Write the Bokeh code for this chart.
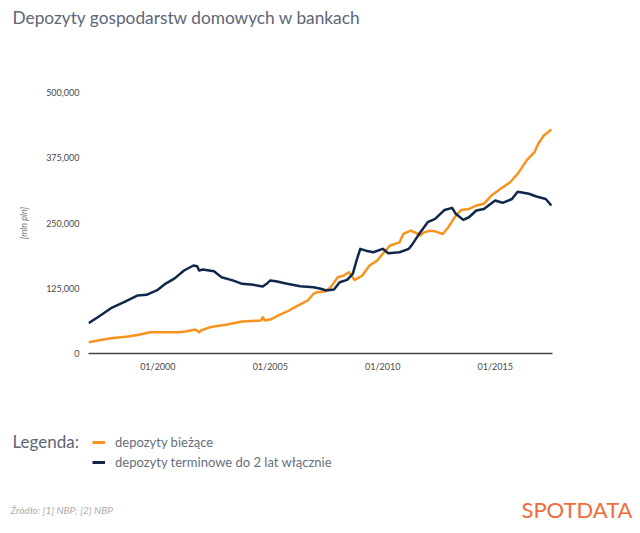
import pandas as pd
from bokeh.plotting import figure
from bokeh.models import (Range1d, FixedTicker, NumeralTickFormatter,
                          DatetimeTickFormatter, Label, Legend, LegendItem)
from bokeh.embed import file_html
from bokeh.resources import INLINE

title_text = "Depozyty gospodarstw domowych w bankach"
legend_title = "Legenda:"
series_names = ["depozyty bieżące", "depozyty terminowe do 2 lat włącznie"]
y_axis_label = "[mln pln]"
source_text = "Źródło: [1] NBP; [2] NBP"
logo_text = "SPOTDATA"
y_ticks = [0, 125000, 250000, 375000, 500000]
x_tick_labels = ["01/2000", "01/2005", "01/2010", "01/2015"]

current_dates = ["1996-12", "1997-05", "1997-12", "1998-09", "1999-03", "1999-09",
                 "2000-05", "2000-12", "2001-04", "2001-09", "2001-11", "2001-12",
                 "2002-05", "2002-07", "2003-02", "2003-10", "2004-08", "2004-09",
                 "2004-10", "2005-01", "2005-06", "2005-10", "2006-04", "2006-09",
                 "2006-12", "2007-02", "2007-06", "2007-09", "2008-01", "2008-04",
                 "2008-07", "2008-10", "2009-02", "2009-06", "2009-10", "2010-01",
                 "2010-05", "2010-10", "2010-12", "2011-04", "2011-07", "2011-09",
                 "2011-11", "2012-02", "2012-05", "2012-09", "2012-12", "2013-04",
                 "2013-07", "2013-11", "2014-03", "2014-07", "2014-11", "2015-04",
                 "2015-09", "2016-01", "2016-06", "2016-10", "2016-12", "2017-03",
                 "2017-07"]
current_values = [21700, 25000, 29300, 32600, 35800, 40800,
                  40800, 40800, 42000, 46000, 40800, 44000,
                  50400, 51700, 55500, 61300, 63200, 69500,
                  63200, 65000, 74000, 80500, 92000, 101500,
                  114000, 117500, 118800, 125800, 146000, 149000,
                  155700, 141000, 149000, 168600, 178000, 191000,
                  207000, 213000, 229000, 235600, 230500, 226000,
                  232000, 235000, 234000, 229000, 242000, 264000,
                  275000, 277000, 283500, 286800, 302700, 315500,
                  328000, 344000, 371000, 385600, 401700, 417600,
                  429000]

term_dates = ["1996-12", "1997-05", "1997-12", "1998-07", "1999-02", "1999-07",
              "2000-01", "2000-05", "2000-10", "2001-03", "2001-08", "2001-10",
              "2001-11", "2002-01", "2002-07", "2002-11", "2003-05", "2003-10",
              "2004-04", "2004-09", "2004-11", "2005-01", "2005-04", "2005-10",
              "2006-05", "2006-12", "2007-04", "2007-07", "2007-11", "2008-02",
              "2008-06", "2008-09", "2008-11", "2009-01", "2009-04", "2009-08",
              "2010-01", "2010-04", "2010-10", "2011-03", "2011-05", "2011-09",
              "2012-01", "2012-05", "2012-10", "2013-02", "2013-04", "2013-08",
              "2013-11", "2014-03", "2014-07", "2015-01", "2015-05", "2015-10",
              "2016-01", "2016-07", "2016-11", "2017-04", "2017-07"]
term_values = [58000, 69500, 86800, 98300, 111000, 112400,
               122000, 133500, 144000, 159000, 168600, 167000,
               159000, 161000, 157700, 146000, 140000, 133500,
               131600, 128300, 133500, 140000, 138500, 133500,
               129000, 127000, 124000, 120700, 122600, 136600,
               141000, 152700, 178000, 200500, 197000, 194000,
               200500, 192000, 194000, 200500, 210000, 232000,
               251500, 258000, 275000, 279000, 267600, 256000,
               261000, 274000, 277000, 293000, 288700, 296000,
               310000, 306000, 300800, 296000, 283500]

ORANGE = "#f7931e"
NAVY = "#10284b"
FONT = "Lato"
W = 640
HEAD_H = 40
CHART_H = 350
FOOT_TOP = HEAD_H + CHART_H
FOOT_H = 533 - FOOT_TOP


def blank(height, y_top):
    f = figure(width=W, height=height, output_backend="svg", toolbar_location=None,
               x_range=Range1d(0, W), y_range=Range1d(y_top + height, y_top),
               min_border=0, min_border_left=0, min_border_right=0,
               min_border_top=0, min_border_bottom=0)
    f.axis.visible = False
    f.grid.visible = False
    f.outline_line_color = None
    return f


cur_x = pd.to_datetime(current_dates, format="%Y-%m")
term_x = pd.to_datetime(term_dates, format="%Y-%m")
tick_x = pd.to_datetime(x_tick_labels, format="%m/%Y")

# ---- header ----
head = blank(HEAD_H, 0)
head.add_layout(Label(x=12, y=17, text=title_text, text_font=FONT,
                      text_font_size="17.3px", text_color="#5d6676",
                      text_baseline="middle"))

# ---- chart ----
p = figure(width=W, height=CHART_H, output_backend="svg", toolbar_location=None,
           x_axis_type="datetime",
           x_range=Range1d(pd.Timestamp("1996-12-01"), pd.Timestamp("2017-07-20")),
           y_range=Range1d(0, 500000),
           min_border_left=88, min_border_right=88, min_border_top=52,
           min_border_bottom=37)
p.outline_line_color = None
p.grid.visible = False

p.line(cur_x, current_values, line_color=ORANGE, line_width=2.5, line_join="round")
p.line(term_x, term_values, line_color=NAVY, line_width=2.5, line_join="round")

ya = p.yaxis[0]
ya.ticker = FixedTicker(ticks=y_ticks)
ya.formatter = NumeralTickFormatter(format="0,0")
ya.axis_line_color = None
ya.major_tick_line_color = None
ya.minor_tick_line_color = None
ya.major_tick_out = 0
ya.major_tick_in = 0
ya.major_label_standoff = 9
ya.major_label_text_font = FONT
ya.major_label_text_font_size = "9px"
ya.major_label_text_color = "#4a4a4a"
ya.axis_label = y_axis_label
ya.axis_label_text_font = FONT
ya.axis_label_text_font_style = "italic"
ya.axis_label_text_font_size = "9px"
ya.axis_label_text_color = "#777777"
ya.axis_label_standoff = 14

xa = p.xaxis[0]
xa.ticker = FixedTicker(ticks=[int(t.value // 10**6) for t in tick_x])
xa.formatter = DatetimeTickFormatter(years="%m/%Y", months="%m/%Y", days="%m/%Y")
xa.axis_line_color = "#444444"
xa.axis_line_width = 1.5
xa.major_tick_line_color = None
xa.minor_tick_line_color = None
xa.major_tick_out = 0
xa.major_tick_in = 0
xa.major_label_standoff = 7
xa.major_label_text_font = FONT
xa.major_label_text_font_size = "9px"
xa.major_label_text_color = "#4a4a4a"

# ---- footer (legend, source, logo) ----
foot = blank(FOOT_H, FOOT_TOP)
foot.add_layout(Label(x=12, y=441, text=legend_title, text_font=FONT,
                      text_font_size="17px", text_color="#5d6676",
                      text_baseline="middle"))
# the series drawn again in the footer (outside its visible range) only to feed the legend
lg_cur = foot.line(cur_x, current_values, line_color=ORANGE, line_width=3)
lg_term = foot.line(term_x, term_values, line_color=NAVY, line_width=3)
legend = Legend(items=[LegendItem(label=series_names[0], renderers=[lg_cur]),
                       LegendItem(label=series_names[1], renderers=[lg_term])],
                location=(92, 533 - 472), orientation="vertical",
                glyph_width=13, glyph_height=20, label_standoff=10, spacing=0,
                padding=0, margin=0, border_line_color=None,
                background_fill_alpha=0,
                label_text_font=FONT, label_text_font_size="13px",
                label_text_color="#666f7c")
foot.add_layout(legend)
foot.add_layout(Label(x=10, y=509, text=source_text, text_font=FONT,
                      text_font_size="10px", text_font_style="italic",
                      text_color="#ababab", text_baseline="middle"))
foot.add_layout(Label(x=632, y=509, text=logo_text, text_font=FONT,
                      text_font_size="22px", text_color="#f26b3a",
                      text_baseline="middle", text_align="right"))

open("out.html", "w").write(file_html([head, p, foot], INLINE))
